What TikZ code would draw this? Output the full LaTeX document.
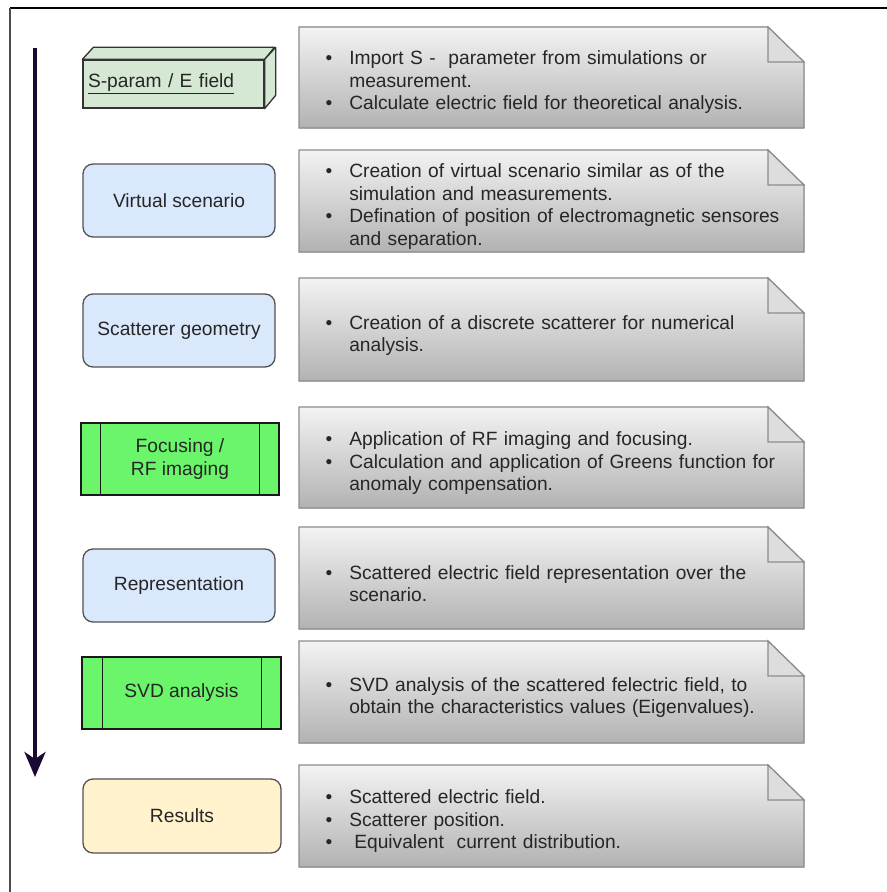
\documentclass[tikz,border=0pt]{standalone}
\usepackage{fontspec}
\setmainfont{Liberation Sans}
\usepackage{enumitem}
\usetikzlibrary{arrows.meta}

\newlength{\du}
\setlength{\du}{0.75pt}

\definecolor{framecol}{HTML}{333333}
\definecolor{textgray}{HTML}{262626}
\definecolor{arrowcol}{HTML}{1A0A33}
\definecolor{cubefill}{HTML}{D5E8D4}
\definecolor{bluefill}{HTML}{DAE8FC}
\definecolor{greenfill}{HTML}{6AF56A}
\definecolor{resfill}{HTML}{FFF2CC}
\definecolor{notetop}{HTML}{F3F3F3}
\definecolor{notebottom}{HTML}{B2B2B2}
\definecolor{noteline}{HTML}{8C8C8C}
\definecolor{foldfill}{HTML}{DDDDDD}

\newenvironment{notelist}{\begin{itemize}[leftmargin=27\du,labelsep=17\du,itemsep=0pt,topsep=0pt,parsep=0pt,partopsep=0pt,label=\textbullet]}{\end{itemize}}

\begin{document}
\begin{tikzpicture}[
  every node/.style={font=\fontsize{14.4}{16.9}\selectfont, text=textgray},
  cubefront/.style={draw=framecol, fill=cubefill, line width=1.3\du, minimum width=181\du, minimum height=48\du, text width=171\du, inner xsep=5\du, align=left},
  cubeside/.style={draw=framecol, fill=cubefill, line width=1.3\du, line join=round},
  roundbox/.style={draw=framecol!85, line width=1.3\du, rounded corners=10\du, minimum width=192\du, minimum height=73\du},
  procbox/.style={draw=black!90, fill=greenfill, line width=1.3\du, minimum height=72\du, align=center},
  notebox/.style={draw=noteline, line width=1.2\du, top color=notetop, bottom color=notebottom},
  notefold/.style={draw=noteline, fill=foldfill, line width=1.2\du},
  notetext/.style={anchor=west, inner sep=0pt, text width=470\du, align=left},
  flowarrow/.style={draw=arrowcol, line width=3pt, -{Stealth[length=18.75pt,width=15.75pt,inset=5.25pt]}}
]
\pgftransformxscale{1.000000}
\pgftransformyscale{-1.000000}
\useasboundingbox (0\du,0\du) rectangle (887\du,892\du);

% frame
\draw[black, line width=2\du] (887\du,8\du) -- (10\du,8\du);
\draw[black!70, line width=1.4\du] (10\du,8\du) -- (10\du,892\du);

% flow arrow
\coordinate (arrowtop) at (35\du,48\du);
\coordinate (arrowbot) at (35\du,777\du);
\draw[flowarrow] (arrowtop) -- (arrowbot);

% S-param block
\node[cubefront] (sparam) at (173.5\du,84\du) {\underline{S-param / E field}};
\draw[cubeside] (sparam.north west) -- ++(11\du,-12\du) -- ++(181\du,0\du) -- (sparam.north east) -- cycle;
\draw[cubeside] (sparam.north east) -- ++(11\du,-12\du) -- ++(0\du,48\du) -- (sparam.south east) -- cycle;

% left steps
\node[roundbox, fill=bluefill] (virtual) at (179\du,200.5\du) {Virtual scenario};
\node[roundbox, fill=bluefill] (scatgeo) at (179\du,330.5\du) {Scatterer geometry};
\node[procbox, minimum width=198\du] (focusing) at (180\du,459\du) {Focusing /\\RF imaging};
\draw[black!90, line width=1.3\du] ([xshift=20\du]focusing.north west) -- ([xshift=20\du]focusing.south west);
\draw[black!90, line width=1.3\du] ([xshift=-20\du]focusing.north east) -- ([xshift=-20\du]focusing.south east);
\node[roundbox, fill=bluefill] (repres) at (179\du,585.5\du) {Representation};
\node[procbox, minimum width=199\du] (svd) at (181.5\du,693\du) {SVD analysis};
\draw[black!90, line width=1.3\du] ([xshift=21\du]svd.north west) -- ([xshift=21\du]svd.south west);
\draw[black!90, line width=1.3\du] ([xshift=-20\du]svd.north east) -- ([xshift=-20\du]svd.south east);
\node[roundbox, fill=resfill, minimum width=198\du, minimum height=74\du] (results) at (182\du,816\du) {Results};

% notes
\filldraw[notebox] (299\du,27\du) -- (768\du,27\du) -- (804\du,62\du) -- (804\du,128\du) -- (299\du,128\du) -- cycle;
\filldraw[notefold] (768\du,27\du) -- (768\du,62\du) -- (804\du,62\du) -- cycle;
\node[notetext] (note1) at (322\du,78\du) {\begin{notelist}
\item Import S - \ parameter from simulations or\\ measurement.
\item Calculate electric field for theoretical analysis.
\end{notelist}};

\filldraw[notebox] (299\du,150\du) -- (768\du,150\du) -- (804\du,185\du) -- (804\du,252\du) -- (299\du,252\du) -- cycle;
\filldraw[notefold] (768\du,150\du) -- (768\du,185\du) -- (804\du,185\du) -- cycle;
\node[notetext] (note2) at (322\du,202\du) {\begin{notelist}
\item Creation of virtual scenario similar as of the\\ simulation and measurements.
\item Defination of position of electromagnetic sensores\\ and separation.
\end{notelist}};

\filldraw[notebox] (299\du,278\du) -- (768\du,278\du) -- (804\du,313\du) -- (804\du,381\du) -- (299\du,381\du) -- cycle;
\filldraw[notefold] (768\du,278\du) -- (768\du,313\du) -- (804\du,313\du) -- cycle;
\node[notetext] (note3) at (322\du,331\du) {\begin{notelist}
\item Creation of a discrete scatterer for numerical\\ analysis.
\end{notelist}};

\filldraw[notebox] (299\du,407\du) -- (768\du,407\du) -- (804\du,442\du) -- (804\du,508\du) -- (299\du,508\du) -- cycle;
\filldraw[notefold] (768\du,407\du) -- (768\du,442\du) -- (804\du,442\du) -- cycle;
\node[notetext] (note4) at (322\du,459\du) {\begin{notelist}
\item Application of RF imaging and focusing.
\item Calculation and application of Greens function for\\ anomaly compensation.
\end{notelist}};

\filldraw[notebox] (299\du,527\du) -- (768\du,527\du) -- (804\du,562\du) -- (804\du,629\du) -- (299\du,629\du) -- cycle;
\filldraw[notefold] (768\du,527\du) -- (768\du,562\du) -- (804\du,562\du) -- cycle;
\node[notetext] (note5) at (322\du,579.5\du) {\begin{notelist}
\item Scattered electric field representation over the\\ scenario.
\end{notelist}};

\filldraw[notebox] (299\du,641\du) -- (768\du,641\du) -- (804\du,676\du) -- (804\du,743\du) -- (299\du,743\du) -- cycle;
\filldraw[notefold] (768\du,641\du) -- (768\du,676\du) -- (804\du,676\du) -- cycle;
\node[notetext] (note6) at (322\du,693\du) {\begin{notelist}
\item SVD analysis of the scattered felectric field, to\\ obtain the characteristics values (Eigenvalues).
\end{notelist}};

\filldraw[notebox] (299\du,765\du) -- (768\du,765\du) -- (804\du,800\du) -- (804\du,867\du) -- (299\du,867\du) -- cycle;
\filldraw[notefold] (768\du,765\du) -- (768\du,800\du) -- (804\du,800\du) -- cycle;
\node[notetext] (note7) at (322\du,817\du) {\begin{notelist}
\item Scattered electric field.
\item Scatterer position.
\item \hspace{5\du}Equivalent \ current distribution.
\end{notelist}};
\end{tikzpicture}
\end{document}
